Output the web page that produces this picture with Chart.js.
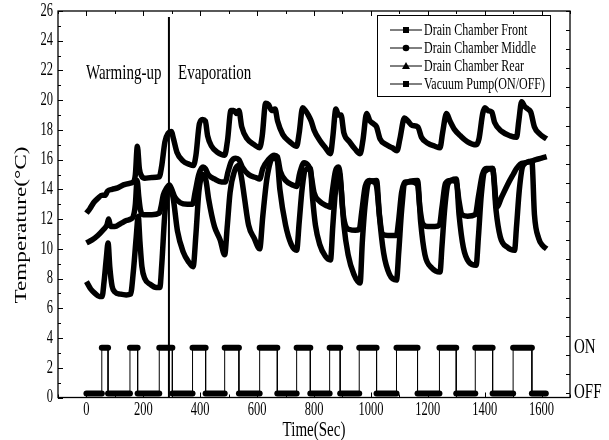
<!DOCTYPE html>
<html>
<head>
<meta charset="utf-8">
<script src="https://cdn.jsdelivr.net/npm/chart.js@4.4.1/dist/chart.umd.min.js"></script>
<style>
  html, body { margin: 0; padding: 0; background: #fff; }
  #wrap { width: 609px; height: 440px; }
</style>
</head>
<body>
<div id="wrap"><canvas id="tempChart" width="609" height="440"></canvas></div>
<script>
// Drain chamber temperatures and vacuum pump state vs time
const xTicks = [0, 200, 400, 600, 800, 1000, 1200, 1400, 1600];
const yTicks = [0, 2, 4, 6, 8, 10, 12, 14, 16, 18, 20, 22, 24, 26];

// Drain Chamber Front (lowest, deepest swings)
const frontTime = [0, 15, 30, 45, 55, 62, 70, 76, 82, 90, 100, 120, 140, 155, 165, 175, 182, 188, 195, 205, 225, 245, 258,
  265, 275, 285, 295, 305, 320, 340, 360, 375, 385, 395, 410, 420, 430, 450, 470, 486,
  495, 505, 520, 535, 545, 555, 570, 590, 609, 620, 635, 655, 670, 680, 700, 720, 739,
  748, 758, 770, 787, 795, 805, 820, 840, 858, 866, 875, 887, 895, 905, 920, 940, 962,
  970, 980, 995, 1020, 1030, 1045, 1065, 1090, 1098, 1108, 1120, 1164, 1175, 1190, 1215, 1243,
  1250, 1260, 1272, 1300, 1310, 1325, 1345, 1370, 1378, 1388, 1400, 1428, 1440, 1455, 1480, 1505,
  1512, 1522, 1535, 1566, 1575, 1590, 1605, 1618];
const frontTemp = [7.8, 7.3, 7.0, 6.8, 6.8, 7.8, 9.4, 10.4, 8.8, 7.5, 7.1, 6.95, 6.9, 6.95, 8.5, 10.8, 12.2, 10.5, 8.8, 8.0, 7.6, 7.4, 7.4,
  9.0, 12.2, 13.9, 14.1, 13.4, 11.2, 9.8, 9.1, 8.8, 11.0, 13.8, 15.0, 14.6, 13.3, 11.5, 10.6, 9.6,
  11.5, 13.8, 15.2, 15.6, 14.8, 13.5, 11.6, 10.7, 10.0, 12.2, 14.8, 16.1, 16.0, 14.0, 11.6, 10.3, 9.9,
  11.8, 14.0, 15.3, 15.4, 13.4, 11.6, 10.3, 9.5, 9.25, 11.5, 13.8, 15.2, 14.2, 11.6, 9.6, 8.3, 7.7,
  10.5, 13.0, 14.5, 14.6, 12.2, 9.7, 8.3, 7.9, 9.8, 12.6, 14.4, 14.6, 11.8, 9.6, 8.7, 8.45,
  10.2, 12.8, 14.4, 14.7, 12.3, 10.1, 9.1, 8.9, 10.8, 13.6, 15.2, 15.4, 12.6, 10.8, 10.1, 9.9,
  11.5, 14.0, 15.6, 15.9, 12.3, 10.7, 10.2, 10.0];

// Drain Chamber Middle (top band)
const middleTime = [0, 12, 25, 40, 55, 65, 75, 90, 110, 130, 150, 165, 172, 179, 186, 194, 205, 230, 256,
  264, 276, 288, 298, 306, 318, 340, 360, 376, 385, 397, 408, 418, 426, 440, 460, 486,
  496, 508, 518, 528, 536, 546, 565, 590, 609, 618, 630, 640, 652, 663, 672, 690, 715, 739,
  748, 760, 770, 780, 790, 800, 820, 840, 858, 866, 877, 886, 895, 905, 925, 945, 962,
  972, 985, 997, 1010, 1020, 1032, 1055, 1075, 1092, 1102, 1118, 1130, 1145, 1165, 1178, 1200, 1225, 1243,
  1252, 1266, 1278, 1295, 1315, 1340, 1370, 1380, 1393, 1401, 1412, 1425, 1435, 1460, 1490, 1512,
  1520, 1530, 1540, 1552, 1562, 1575, 1595, 1618];
const middleTemp = [12.4, 12.7, 13.1, 13.4, 13.6, 13.6, 13.9, 14.0, 14.1, 14.3, 14.4, 14.5, 15.0, 16.9, 15.4, 14.9, 14.75, 14.8, 14.85,
  15.5, 17.2, 17.8, 17.9, 17.4, 16.5, 15.9, 15.7, 15.6, 16.3, 18.4, 18.7, 18.6, 17.6, 16.9, 16.5, 16.3,
  17.3, 19.3, 19.3, 19.1, 19.3, 18.2, 17.4, 17.0, 16.8, 17.6, 19.8, 19.7, 19.3, 19.4, 18.6, 17.7, 17.2, 16.9,
  17.8, 19.5, 19.3, 19.0, 18.6, 18.0, 17.3, 16.8, 16.4, 17.5, 19.4, 19.0, 19.0, 17.8, 17.2, 16.7, 16.4,
  17.3, 19.1, 18.6, 18.4, 18.2, 17.4, 17.0, 16.8, 16.6, 17.4, 18.8, 18.6, 18.3, 18.2, 17.5, 17.1, 16.9, 16.8,
  17.8, 19.1, 18.6, 18.0, 17.6, 17.2, 17.0, 17.4, 19.1, 19.5, 19.3, 19.2, 18.5, 17.9, 17.6, 17.5,
  18.6, 19.9, 19.6, 19.4, 19.2, 18.2, 17.7, 17.4];

// Drain Chamber Rear (middle band)
const rearTime = [0, 20, 40, 60, 72, 78, 85, 100, 120, 140, 155, 165, 172, 178, 184, 190, 200, 230, 256,
  262, 270, 282, 292, 300, 310, 330, 355, 373, 382, 395, 410, 418, 428, 450, 475, 488,
  498, 510, 525, 536, 548, 570, 595, 609, 620, 640, 660, 671, 682, 700, 725, 739,
  750, 765, 780, 787, 800, 820, 845, 857, 864, 875, 885, 892, 900, 910, 925, 945, 959,
  968, 980, 995, 1010, 1020, 1030, 1040, 1060, 1090, 1097, 1108, 1120, 1145, 1164, 1172, 1182, 1200, 1225, 1241,
  1250, 1262, 1280, 1300, 1310, 1320, 1340, 1367, 1378, 1392, 1405, 1428, 1434, 1442, 1460, 1480, 1500,
  1512, 1525, 1545, 1566, 1580, 1600, 1618];
const rearTemp = [10.4, 10.6, 10.9, 11.3, 11.6, 12.0, 11.5, 11.5, 11.7, 11.9, 12.0, 12.2, 13.0, 14.6, 13.5, 12.6, 12.3, 12.3, 12.4,
  12.8, 13.6, 14.1, 14.3, 14.0, 13.5, 13.1, 13.0, 13.0, 13.8, 15.0, 15.5, 15.4, 15.0, 14.7, 14.5, 14.5,
  15.2, 15.9, 16.1, 16.0, 15.5, 15.0, 14.8, 14.7, 15.4, 16.0, 16.3, 16.2, 15.2, 14.6, 14.3, 14.2,
  15.1, 15.8, 15.6, 15.3, 13.8, 13.2, 12.9, 12.8, 13.8, 15.2, 15.5, 15.0, 12.8, 11.6, 11.3, 11.25, 11.3,
  12.5, 14.2, 14.6, 14.5, 14.2, 12.3, 11.0, 10.9, 10.9, 11.8, 13.8, 14.5, 14.5, 14.3, 12.8, 11.7, 11.5, 11.5, 11.6,
  12.8, 14.4, 14.6, 14.5, 13.2, 12.3, 12.2, 12.3, 13.5, 15.0, 15.4, 15.4, 14.5, 12.8, 13.5, 14.3, 15.0,
  15.4, 15.7, 15.8, 15.9, 16.0, 16.1, 16.2];

// Vacuum pump switching times (OFF -> ON -> OFF ...)
const pumpSwitch = [54, 76, 153, 180, 256, 302, 373, 419, 486, 536, 609, 671, 739, 787, 855, 892,
  959, 1020, 1090, 1164, 1241, 1300, 1367, 1428, 1500, 1566];
const pumpStart = 0;
const pumpEnd = 1615;
const pumpOnLevel = 3.35;
const pumpOffLevel = 0.27;

// Warming-up / Evaporation boundary
const boundaryTime = 290;
const boundaryRange = [0, 25.6];

function toPoints(ts, vs) {
  return ts.map((t, i) => ({ x: t, y: vs[i] }));
}

function pumpPoints() {
  const pts = [{ x: pumpStart, y: pumpOffLevel }];
  let on = false;
  pumpSwitch.forEach(t => {
    pts.push({ x: t, y: on ? pumpOnLevel : pumpOffLevel });
    on = !on;
    pts.push({ x: t, y: on ? pumpOnLevel : pumpOffLevel });
  });
  pts.push({ x: pumpEnd, y: pumpOffLevel });
  return pts;
}

const serif = '"Liberation Serif", "DejaVu Serif", serif';
const STRETCH = 1.45;

function sText(ctx, str, x, y, size, align, rotate) {
  ctx.save();
  ctx.translate(x, y);
  ctx.font = size + 'px ' + serif;
  ctx.textAlign = align;
  ctx.textBaseline = 'middle';
  if (rotate) {
    ctx.rotate(-Math.PI / 2);
    ctx.scale(STRETCH, 1);
  } else {
    ctx.scale(1, STRETCH);
  }
  ctx.fillText(str, 0, 0);
  ctx.restore();
}

// Frame, inward ticks, labels, legend and annotations
const framePlugin = {
  id: 'frame',
  afterDraw(chart) {
    const ctx = chart.ctx;
    const a = chart.chartArea;
    const xs = chart.scales.x, ys = chart.scales.y, yr = chart.scales.y2;
    ctx.save();
    ctx.fillStyle = '#000';
    ctx.strokeStyle = '#000';
    ctx.lineWidth = 1.3;
    ctx.strokeRect(a.left, a.top, a.right - a.left, a.bottom - a.top);

    ctx.lineWidth = 1;
    ctx.beginPath();
    for (let t = -100; t <= 1700; t += 100) {
      const px = Math.round(xs.getPixelForValue(t)) + 0.5;
      const len = (t % 200 === 0) ? 5 : 3;
      ctx.moveTo(px, a.bottom); ctx.lineTo(px, a.bottom - len);
      ctx.moveTo(px, a.top); ctx.lineTo(px, a.top + len);
    }
    for (let v = 0; v <= 26; v += 1) {
      const py = Math.round(ys.getPixelForValue(v)) + 0.5;
      const len = (v % 2 === 0) ? 5 : 3;
      ctx.moveTo(a.left, py); ctx.lineTo(a.left + len, py);
    }
    for (let v = 0; v <= 20; v += 1) {
      const py = Math.round(yr.getPixelForValue(v)) + 0.5;
      ctx.moveTo(a.right, py); ctx.lineTo(a.right - 4, py);
    }
    ctx.stroke();

    xTicks.forEach(t => sText(ctx, String(t), xs.getPixelForValue(t), a.bottom + 13, 12.5, 'center'));
    yTicks.forEach(v => sText(ctx, String(v), a.left - 5, ys.getPixelForValue(v), 12.5, 'right'));

    sText(ctx, 'Time(Sec)', (a.left + a.right) / 2, 430, 15, 'center');
    sText(ctx, 'Temperature(\u00B0C)', 22, 225, 16, 'center', true);

    sText(ctx, 'ON', a.right + 4, ys.getPixelForValue(pumpOnLevel), 15, 'left');
    sText(ctx, 'OFF', a.right + 4, ys.getPixelForValue(pumpOffLevel) - 1, 15, 'left');

    sText(ctx, 'Warming-up', 86, 73, 15, 'left');
    sText(ctx, 'Evaporation', 178, 73, 15, 'left');

    // legend
    const lx = 377, ly = 15, lw = 173, lh = 81;
    ctx.fillStyle = '#fff';
    ctx.fillRect(lx, ly, lw, lh);
    ctx.fillStyle = '#000';
    ctx.lineWidth = 1;
    ctx.strokeRect(lx + 0.5, ly + 0.5, lw, lh);
    const rows = [30, 48, 66, 84];
    chart.data.datasets.slice(0, 4).forEach((ds, i) => {
      const y = rows[i];
      ctx.beginPath();
      ctx.moveTo(390, y); ctx.lineTo(422, y);
      ctx.stroke();
      const cx = 406;
      ctx.beginPath();
      if (ds.pointStyle === 'rect') {
        ctx.rect(cx - 3, y - 3, 6, 6);
      } else if (ds.pointStyle === 'circle') {
        ctx.arc(cx, y, 3.3, 0, Math.PI * 2);
      } else {
        ctx.moveTo(cx, y - 4); ctx.lineTo(cx + 4, y + 3); ctx.lineTo(cx - 4, y + 3); ctx.closePath();
      }
      ctx.fill();
      sText(ctx, ds.label, 424, y, 12, 'left');
    });
    ctx.restore();
  }
};

const curveStyle = {
  borderColor: '#000',
  backgroundColor: '#000',
  borderWidth: 5.5,
  pointRadius: 0,
  cubicInterpolationMode: 'monotone',
  fill: false
};

new Chart(document.getElementById('tempChart').getContext('2d'), {
  type: 'line',
  data: {
    datasets: [
      Object.assign({ label: 'Drain Chamber Front', pointStyle: 'rect', data: toPoints(frontTime, frontTemp) }, curveStyle),
      Object.assign({ label: 'Drain Chamber Middle', pointStyle: 'circle', data: toPoints(middleTime, middleTemp) }, curveStyle),
      Object.assign({ label: 'Drain Chamber Rear', pointStyle: 'triangle', data: toPoints(rearTime, rearTemp) }, curveStyle),
      {
        label: 'Vacuum Pump(ON/OFF)',
        pointStyle: 'rect',
        data: pumpPoints(),
        borderColor: '#000',
        borderWidth: 1,
        pointRadius: 0,
        borderCapStyle: 'round',
        segment: {
          borderWidth: c => (c.p0.parsed.y === c.p1.parsed.y ? 6 : 1)
        }
      },
      {
        label: 'boundary',
        data: [{ x: boundaryTime, y: boundaryRange[0] }, { x: boundaryTime, y: boundaryRange[1] }],
        borderColor: '#000',
        borderWidth: 2,
        pointRadius: 0
      }
    ]
  },
  options: {
    responsive: false,
    animation: false,
    devicePixelRatio: 1,
    layout: { padding: { left: 58, right: 39, top: 11, bottom: 42.5 } },
    plugins: { legend: { display: false }, tooltip: { enabled: false } },
    scales: {
      x: { type: 'linear', min: -100, max: 1700, display: false },
      y: { type: 'linear', min: 0, max: 26, display: false },
      y2: { type: 'linear', position: 'right', min: -0.22, max: 20, display: false }
    }
  },
  plugins: [framePlugin]
});
</script>
</body>
</html>
